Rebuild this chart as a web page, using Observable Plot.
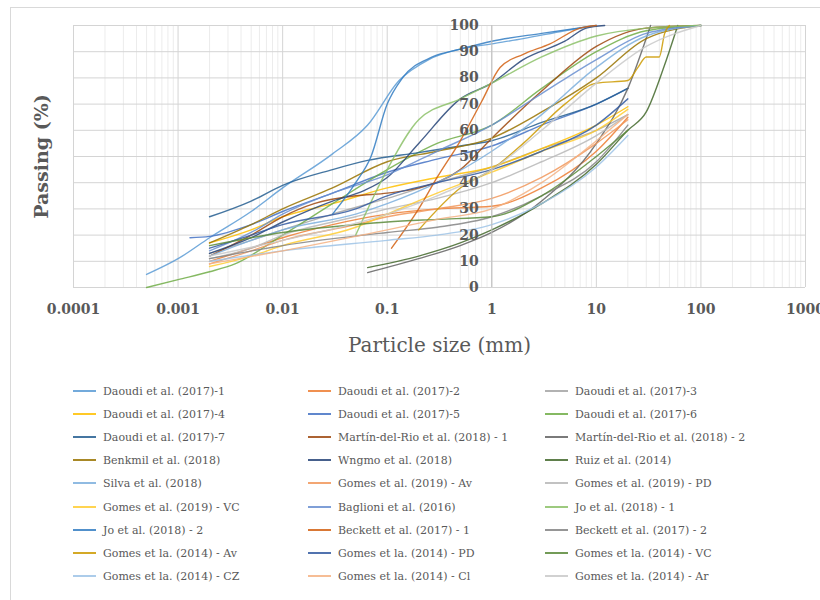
<!DOCTYPE html>
<html><head><meta charset="utf-8">
<script src="https://cdn.jsdelivr.net/npm/d3@7"></script>
<script src="https://cdn.jsdelivr.net/npm/@observablehq/plot@0.6"></script>
<style>
body{margin:0;background:#fff;width:820px;height:600px;overflow:hidden;position:relative;font-family:"DejaVu Serif",serif}
#frame{position:absolute;left:10px;top:7px;width:830px;height:620px;border:1px solid #d9d9d9;box-sizing:border-box}
#chart{position:absolute;left:0;top:0}
.item{position:absolute;font-size:11px;color:#595959;white-space:nowrap;line-height:14px}
.sw{display:inline-block;width:23px;height:0;border-top:2px solid;vertical-align:middle;margin-right:7px;position:relative;top:-1px;opacity:0.85}
</style></head>
<body>
<div id="frame"></div>
<div id="chart"></div>
<div id="legend"></div>
<script>
// ---- data ----
const seriesNames = [
  "Daoudi et al. (2017)-1","Daoudi et al. (2017)-2","Daoudi et al. (2017)-3",
  "Daoudi et al. (2017)-4","Daoudi et al. (2017)-5","Daoudi et al. (2017)-6",
  "Daoudi et al. (2017)-7","Martín-del-Rio et al. (2018) - 1","Martín-del-Rio et al. (2018) - 2",
  "Benkmil et al. (2018)","Wngmo et al.  (2018)","Ruiz et al. (2014)",
  "Silva et al. (2018)","Gomes et al. (2019) - Av","Gomes et al. (2019) - PD",
  "Gomes et al. (2019) - VC","Baglioni et al. (2016)","Jo et al. (2018) - 1",
  "Jo et al. (2018) - 2","Beckett et al. (2017) - 1","Beckett et al. (2017) - 2",
  "Gomes et la. (2014) - Av","Gomes et la. (2014) - PD","Gomes et la. (2014) - VC",
  "Gomes et la. (2014) - CZ","Gomes et la. (2014) - Cl","Gomes et la. (2014) - Ar"
];
const seriesColors = [
  "#5B9BD5","#ED7D31","#A5A5A5","#FFC000","#4472C4","#70AD47",
  "#255E91","#9E480E","#636363","#997300","#264478","#43682B",
  "#7CAFDD","#F1975A","#B7B7B7","#FFCD33","#698ED0","#8CC168",
  "#327DC2","#D26012","#848484","#CC9A00","#335AA1","#5A8A39",
  "#9DC3E6","#F4B183","#C9C9C9"
];
// [particle size (mm), passing (%)]
const daoudi1 = [[0.0005,5],[0.001,11],[0.002,19],[0.005,29],[0.01,38],[0.03,51],[0.065,62],[0.13,79],[0.25,87],[0.5,91],[1,93],[2,95],[5,98],[10,100]];
const daoudi2 = [[0.002,10],[0.005,15],[0.01,19],[0.03,24],[0.1,28],[0.3,30],[1,31],[3,38],[10,52],[20,65]];
const daoudi3 = [[0.002,13],[0.005,18],[0.01,22],[0.03,28],[0.1,34],[0.3,40],[1,46],[3,53],[10,60],[20,66]];
const daoudi4 = [[0.002,17],[0.005,22],[0.01,27],[0.03,32],[0.1,38],[0.3,42],[1,46],[3,53],[10,62],[20,69]];
const daoudi5 = [[0.0013,19],[0.002,19.5],[0.005,24],[0.01,29],[0.03,36],[0.1,44],[0.3,49],[1,54],[3,62],[10,70],[20,76]];
const daoudi6 = [[0.0005,0],[0.001,3],[0.002,6],[0.0035,9],[0.01,20],[0.03,32],[0.1,45],[0.3,55],[1,62],[3,76],[10,90],[30,98],[100,100]];
const daoudi7 = [[0.002,27],[0.005,33],[0.01,39],[0.03,45],[0.065,48.5],[0.2,51.5],[0.5,54],[1,56],[3,63],[10,70],[20,76]];
const martin1 = [[0.002,12],[0.005,20],[0.01,27],[0.02,32],[0.05,35],[0.1,36],[0.2,38],[0.5,45],[1,57],[3,75],[10,92],[30,99],[100,100]];
const martin2 = [[0.065,5.7],[0.2,11],[0.5,16],[1,21],[3,33],[10,55],[20,76],[33,100]];
const benkmil = [[0.002,17],[0.005,24],[0.01,30],[0.03,38],[0.1,48],[0.3,52],[1,57],[3,67],[10,80],[30,95],[100,100]];
const wngmo = [[0.002,13],[0.005,19],[0.01,25],[0.03,33],[0.06,37],[0.1,42],[0.2,55],[0.5,72],[1,78],[2,87],[5,94],[8,99],[12,100]];
const ruiz = [[0.065,7.6],[0.2,12],[0.5,17],[1,22],[3,32],[10,47],[20,60],[30,67],[45,85],[60,100]];
const silva = [[0.002,12],[0.005,18],[0.01,22],[0.05,28],[0.1,32],[0.3,40],[1,52],[3,66],[10,84],[30,96],[100,100]];
const gomes19Av = [[0.002,9],[0.005,14],[0.01,18],[0.05,24],[0.1,27],[0.3,30],[1,34],[3,42],[10,55],[20,64]];
const gomes19PD = [[0.002,11],[0.005,15],[0.01,20],[0.05,27],[0.1,30],[0.3,34],[1,40],[3,48],[10,58],[20,66]];
const gomes19VC = [[0.002,8],[0.005,12],[0.01,16],[0.05,23],[0.1,28],[0.3,36],[1,44],[3,52],[10,60],[20,68]];
const baglioni = [[0.002,14],[0.005,21],[0.01,28],[0.03,36],[0.1,43],[0.3,52],[1,62],[3,74],[10,87],[30,97],[100,100]];
const jo1 = [[0.05,20],[0.1,45],[0.2,64],[0.5,72],[1,78],[3,88],[10,96],[30,99],[100,100]];
const jo2 = [[0.03,28],[0.05,40],[0.07,50],[0.1,70],[0.14,80],[0.27,88],[0.5,91],[1,94],[3,97],[10,100]];
const beckett1 = [[0.11,15],[0.2,30],[0.3,42],[0.5,56],[0.8,71],[1.2,84],[2,89],[3.6,93],[7,99],[10,100]];
const beckett2 = [[0.002,11],[0.01,16],[0.1,21],[0.3,23],[1,27],[3,35],[10,48],[20,62]];
const gomes14Av = [[0.2,22],[0.5,38],[1,45],[2,55],[5,70],[10,78],[20,79],[25,84],[30,88],[40,88],[45,97],[50,100]];
const gomes14PD = [[0.002,15],[0.005,20],[0.01,24],[0.05,30],[0.1,35],[0.3,40],[1,45],[3,52],[10,62],[20,72]];
const gomes14VC = [[0.002,16],[0.005,19],[0.01,21],[0.05,24],[0.1,25],[0.3,26],[1,27],[3,35],[10,50],[20,60]];
const gomes14CZ = [[0.002,10],[0.01,14],[0.1,18],[0.3,20],[1,24],[3,32],[10,46],[20,58]];
const gomes14Cl = [[0.002,9],[0.01,14],[0.1,22],[0.3,26],[1,30],[3,40],[10,56],[20,66]];
const gomes14Ar = [[0.002,12],[0.01,18],[0.1,28],[0.3,35],[1,45],[3,60],[10,78],[30,92],[100,100]];
const seriesData = [daoudi1,daoudi2,daoudi3,daoudi4,daoudi5,daoudi6,daoudi7,martin1,martin2,
  benkmil,wngmo,ruiz,silva,gomes19Av,gomes19PD,gomes19VC,baglioni,jo1,jo2,beckett1,beckett2,
  gomes14Av,gomes14PD,gomes14VC,gomes14CZ,gomes14Cl,gomes14Ar];

const xTicks = [0.0001,0.001,0.01,0.1,1,10,100,1000];
const xTickLabels = ["0.0001","0.001","0.01","0.1","1","10","100","1000"];
const yTicks = [0,10,20,30,40,50,60,70,80,90,100];

// ---- chart ----
const minorX = [];
xTicks.slice(0,-1).forEach(d => { for (let k = 2; k <= 9; k++) minorX.push(d*k); });

const rows = [];
seriesData.forEach((pts, i) => pts.forEach(p => rows.push({name: seriesNames[i], x: p[0], y: p[1]})));

const chart = Plot.plot({
  width: 820, height: 375,
  marginLeft: 73, marginRight: 15, marginTop: 25, marginBottom: 88,
  style: {background: "transparent", overflow: "visible"},
  x: {type: "log", domain: [0.0001, 1000], axis: null},
  y: {domain: [0, 100], axis: null},
  color: {domain: seriesNames, range: seriesColors},
  marks: [
    Plot.ruleX(minorX, {stroke: "#ececec", strokeWidth: 1}),
    Plot.ruleX(xTicks, {stroke: "#d4d4d4", strokeWidth: 1}),
    Plot.ruleY(yTicks, {stroke: "#d4d4d4", strokeWidth: 1}),
    Plot.line(rows, {x: "x", y: "y", z: "name", stroke: "name", strokeWidth: 1.4, strokeOpacity: 0.85, curve: "monotone-x"}),
    Plot.ruleX([1], {stroke: "#bfbfbf", strokeWidth: 1}),
    Plot.text(yTicks, {x: () => 1, y: d => d, text: d => String(d), textAnchor: "end", dx: -13,
      fontSize: 14, fontWeight: "bold", fill: "#595959", fontFamily: "DejaVu Serif"}),
    Plot.text(xTicks, {x: d => d, frameAnchor: "bottom", dy: 26, text: (d, i) => xTickLabels[i],
      fontSize: 14, fontWeight: "bold", fill: "#595959", fontFamily: "DejaVu Serif"}),
    Plot.text(["Particle size (mm)"], {frameAnchor: "bottom", dy: 64, text: d => d,
      fontSize: 20, fill: "#595959", fontFamily: "DejaVu Serif"}),
    Plot.text(["Passing (%)"], {frameAnchor: "left", textAnchor: "middle", dx: -32, rotate: -90, text: d => d,
      fontSize: 19, fontWeight: "bold", fill: "#595959", fontFamily: "DejaVu Serif"})
  ]
});
document.getElementById("chart").appendChild(chart);

// ---- legend ----
const legend = document.getElementById("legend");
const colX = [73, 308, 545];
seriesNames.forEach((n, i) => {
  const r = Math.floor(i / 3), c = i % 3;
  const el = document.createElement("div");
  el.className = "item";
  el.style.left = colX[c] + "px";
  el.style.top = (392 + r * 23.1 - 7) + "px";
  el.innerHTML = `<span class="sw" style="border-color:${seriesColors[i]}"></span>${n}`;
  legend.appendChild(el);
});
</script>
</body></html>
